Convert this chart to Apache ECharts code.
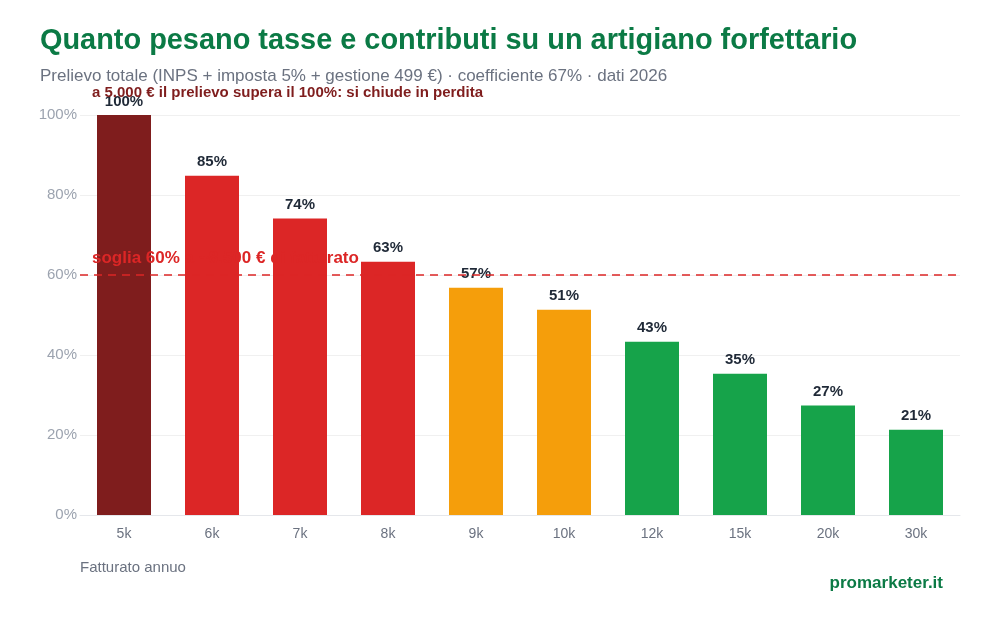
<!DOCTYPE html>
<html>
<head>
<meta charset="utf-8">
<title>Tasse e contributi artigiano forfettario</title>
<script src="https://cdn.jsdelivr.net/npm/echarts@6/dist/echarts.min.js"></script>
<style>
  html, body { margin: 0; padding: 0; background: #fff; }
  #chart { width: 1000px; height: 620px; }
</style>
</head>
<body>
<div id="chart"></div>
<script>
// fatturato annuo (categorie) e prelievo totale in % del fatturato
const fatturato = ["5k", "6k", "7k", "8k", "9k", "10k", "12k", "15k", "20k", "30k"];
const prelievo = [100, 84.8, 74.1, 63.3, 56.8, 51.3, 43.3, 35.3, 27.4, 21.3];
const fasce = ["perdita", "alto", "alto", "alto", "medio", "medio", "basso", "basso", "basso", "basso"];
const coloriFascia = { perdita: "#7f1d1d", alto: "#dc2626", medio: "#f59e0b", basso: "#16a34a" };
const yTicks = [0, 20, 40, 60, 80, 100];
const soglia = 60;

const font = "'Liberation Sans', Arial, Helvetica, sans-serif";

var dom = document.getElementById("chart");
var myChart = echarts.init(dom, null, { renderer: "canvas" });

let barData = prelievo.map((v, i) => ({
  value: v,
  itemStyle: { color: coloriFascia[fasce[i]] }
}));

var option = {
  animation: false,
  textStyle: { fontFamily: font },
  title: {
    text: "Quanto pesano tasse e contributi su un artigiano forfettario",
    subtext: "Prelievo totale (INPS + imposta 5% + gestione 499 €) · coefficiente 67% · dati 2026",
    left: 35,
    top: 22,
    itemGap: 12,
    textStyle: { color: "#0b7a45", fontSize: 28.9, fontWeight: "bold", fontFamily: font },
    subtextStyle: { color: "#6b7280", fontSize: 17, fontFamily: font }
  },
  grid: { left: 80, right: 40, top: 115, bottom: 105 },
  xAxis: {
    type: "category",
    data: fatturato,
    axisLine: { lineStyle: { color: "#e5e7eb", width: 1 } },
    axisTick: { show: false },
    axisLabel: { color: "#6b7280", fontSize: 14, margin: 12 }
  },
  yAxis: {
    type: "value",
    min: yTicks[0],
    max: yTicks[yTicks.length - 1],
    interval: yTicks[1] - yTicks[0],
    axisLabel: { formatter: "{value}%", color: "#9ca3af", fontSize: 15, margin: 3 },
    splitLine: { lineStyle: { color: "#f0f0f0" } },
    axisLine: { show: false },
    axisTick: { show: false }
  },
  series: [
    {
      type: "bar",
      data: barData,
      barWidth: 54,
      label: {
        show: true,
        position: "top",
        distance: 6,
        formatter: (p) => Math.round(p.value) + "%",
        color: "#1f2937",
        fontSize: 15,
        fontWeight: "bold"
      },
      markLine: {
        silent: true,
        symbol: "none",
        data: [
          {
            yAxis: soglia,
            lineStyle: { color: "#dc2626", type: [8, 6], width: 1.5 },
            label: {
              position: "insideStartTop",
              formatter: "soglia 60% a ~8.500 € di fatturato",
              color: "#dc2626",
              fontSize: 17,
              fontWeight: "bold",
              distance: [12, 8]
            }
          },
          {
            yAxis: 100,
            lineStyle: { color: "rgba(0,0,0,0)", width: 0 },
            label: {
              position: "insideStartTop",
              formatter: "a 5.000 € il prelievo supera il 100%: si chiude in perdita",
              color: "#7f1d1d",
              fontSize: 15,
              fontWeight: "bold",
              distance: [12, 15]
            }
          }
        ]
      }
    }
  ],
  graphic: [
    {
      type: "text",
      left: 80,
      top: 560,
      style: { text: "Fatturato annuo", fill: "#6b7280", fontSize: 15, fontFamily: font }
    },
    {
      type: "text",
      right: 57,
      top: 575,
      style: { text: "promarketer.it", fill: "#0b7a45", fontSize: 17, fontWeight: "bold", fontFamily: font }
    }
  ]
};

myChart.setOption(option);
window.addEventListener("resize", myChart.resize);
</script>
</body>
</html>
